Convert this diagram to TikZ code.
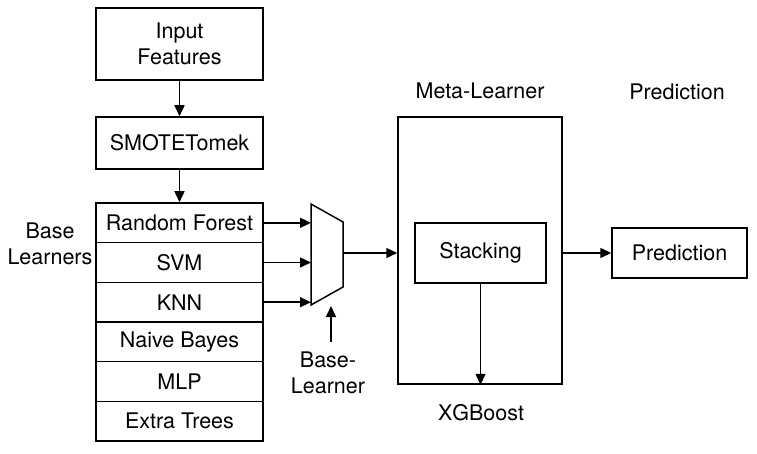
\documentclass[tikz,border=0pt]{standalone}
\usepackage{fontspec}
\setmainfont{TeX Gyre Heros}
\usetikzlibrary{arrows.meta}
\begin{document}
\begin{tikzpicture}[x=1pt,y=-1pt,
  font=\fontsize{21.5}{26}\selectfont,
  line width=1.5pt,
  box/.style={draw, rectangle, inner sep=0pt, align=center},
  row/.style={box, minimum width=167pt, minimum height=39.67pt},
  lbl/.style={inner sep=0pt, align=center},
  arr/.style={-{Triangle[length=11pt,width=10pt]}}]
\useasboundingbox (0,0) rectangle (757,454);
% left column
\node[box, minimum width=167pt, minimum height=72pt] (inp) at (179.5,44) {Input\\Features};
\node[box, minimum width=167pt, minimum height=52pt] (smote) at (179.5,143) {SMOTETomek};
\node[row] (r1) at (179.5,222.8) {Random Forest};
\node[row] (r2) at (179.5,262.5) {SVM};
\node[row] (r3) at (179.5,302.2) {KNN};
\node[row] (r4) at (179.5,341.8) {Naive Bayes};
\node[row] (r5) at (179.5,381.5) {MLP};
\node[row] (r6) at (179.5,421.2) {Extra Trees};
\node[lbl] (bl) at (50,243.5) {Base\\Learners};
\draw[arr] (inp) -- (smote);
\draw[arr] (smote) -- (r1);
% multiplexer
\coordinate (mTL) at (311,204);
\coordinate (mTR) at (343,222);
\coordinate (mBR) at (343,287);
\coordinate (mBL) at (311,305);
\draw[line join=miter] (mTL) -- (mTR) -- (mBR) -- (mBL) -- cycle;
\coordinate (mOut) at (343,253);
\coordinate (mIn) at (331,306);
\coordinate (aS) at (331,342);
\draw[arr] (r1.east) -- (r1.east -| mTL);
\draw[arr] (r2.east) -- (r2.east -| mTL);
\draw[arr] (r3.east) -- (r3.east -| mTL);
\node[lbl] (bll) at (328,372.5) {Base-\\Learner};
\draw[arr] (aS) -- (mIn);
% meta learner
\node[box, minimum width=164pt, minimum height=267pt] (meta) at (480,250.5) {};
\node[lbl] (metal) at (480,91) {Meta-Learner};
\node[box, minimum width=131pt, minimum height=60pt] (stack) at (480.5,253) {Stacking};
\node[lbl] (xgb) at (481,413) {XGBoost};
\draw[arr] (stack.south) -- (stack.south |- meta.south);
\draw[arr] (mOut) -- (mOut -| meta.west);
% prediction
\node[lbl] (predl) at (677,92) {Prediction};
\node[box, minimum width=135pt, minimum height=50pt] (pred) at (679.5,253) {Prediction};
\draw[arr] (pred.west -| meta.east) -- (pred.west);
\end{tikzpicture}
\end{document}
